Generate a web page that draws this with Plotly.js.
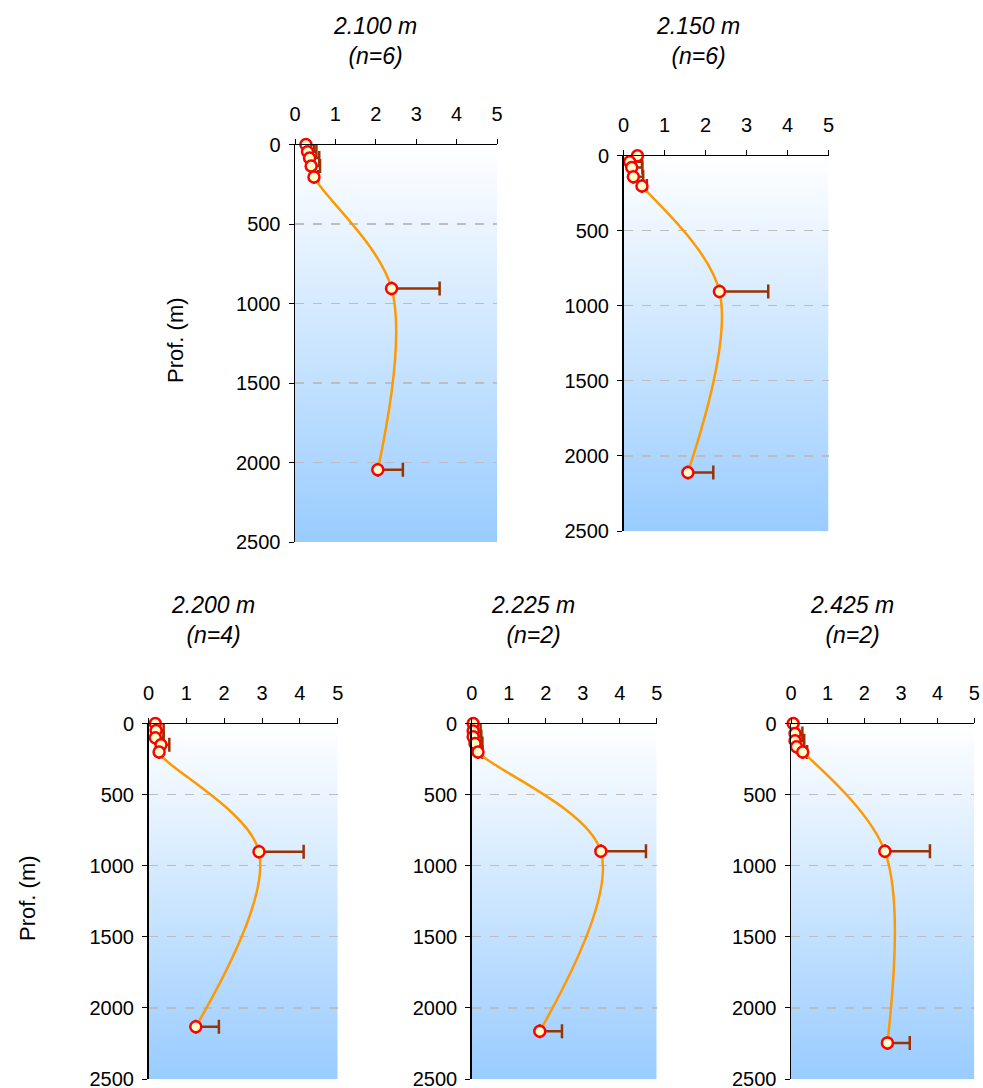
<!DOCTYPE html>
<html>
<head>
<meta charset="utf-8">
<script src="https://cdn.plot.ly/plotly-3.0.1.min.js"></script>
<style>html,body{margin:0;padding:0;background:#fff;}#chart{width:983px;height:1088px;}</style>
</head>
<body>
<div id="chart"></div>
<script>
// ---- data ----
const stationNames = ["2.100 m", "2.150 m", "2.200 m", "2.225 m", "2.425 m"];
const sampleCounts = ["(n=6)", "(n=6)", "(n=4)", "(n=2)", "(n=2)"];

const depth2100 = [0, 45, 85, 135, 205, 905, 2045];
const value2100 = [0.27, 0.31, 0.36, 0.40, 0.47, 2.39, 2.05];
const error2100 = [0.20, 0.22, 0.24, 0.22, 0.10, 1.19, 0.62];

const depth2150 = [0, 40, 78, 140, 202, 904, 2110];
const value2150 = [0.34, 0.15, 0.20, 0.24, 0.45, 2.34, 1.57];
const error2150 = [0.10, 0.30, 0.26, 0.24, 0.12, 1.19, 0.62];

const depth2200 = [0, 50, 100, 150, 200, 902, 2133];
const value2200 = [0.18, 0.20, 0.18, 0.33, 0.28, 2.92, 1.25];
const error2200 = [0.05, 0.20, 0.22, 0.22, 0.10, 1.18, 0.61];

const depth2225 = [0, 52, 94, 141, 200, 899, 2164];
const value2225 = [0.04, 0.04, 0.04, 0.09, 0.17, 3.49, 1.84];
const error2225 = [0.10, 0.20, 0.22, 0.20, 0.12, 1.22, 0.60];

const depth2425 = [0, 70, 122, 164, 200, 899, 2246];
const value2425 = [0.06, 0.11, 0.11, 0.15, 0.32, 2.56, 2.63];
const error2425 = [0.05, 0.20, 0.25, 0.20, 0.12, 1.23, 0.61];

const xTicks = [0, 1, 2, 3, 4, 5];
const yTicks = [0, 500, 1000, 1500, 2000, 2500];

const depths = [depth2100, depth2150, depth2200, depth2225, depth2425];
const values = [value2100, value2150, value2200, value2225, value2425];
const errors = [error2100, error2150, error2200, error2225, error2425];

// ---- layout geometry (paper fractions) ----
const W = 983, H = 1088;
const panels = [
  {x0: 295, x1: 497, y0: 144.5, y1: 542, title: [375, 41.5], ytitle: [175, 340]},
  {x0: 623.5, x1: 828.5, y0: 155.7, y1: 531, title: [698, 41.5], ytitle: null},
  {x0: 148.5, x1: 337.7, y0: 723.5, y1: 1079, title: [213, 619.5], ytitle: [27, 898]},
  {x0: 471.7, x1: 656.7, y0: 723.5, y1: 1079, title: [533, 619.5], ytitle: null},
  {x0: 791, x1: 974.3, y0: 723.5, y1: 1079, title: [852, 619.5], ytitle: null}
];

const FONT = "Liberation Sans, Arial, sans-serif";
const gradSvg = '<svg xmlns="http://www.w3.org/2000/svg" width="10" height="100" viewBox="0 0 10 100" preserveAspectRatio="none">' +
  '<defs><linearGradient id="g" x1="0" y1="0" x2="0" y2="1">' +
  '<stop offset="0" stop-color="#FFFFFF"/><stop offset="1" stop-color="#99CCFF"/>' +
  '</linearGradient></defs><rect x="0" y="0" width="10" height="100" fill="url(#g)"/></svg>';
const gradUri = 'data:image/svg+xml;charset=utf-8,' + encodeURIComponent(gradSvg);

const traces = [];
const layout = {
  width: W, height: H,
  margin: {l: 0, r: 0, t: 0, b: 0},
  paper_bgcolor: '#FFFFFF',
  plot_bgcolor: 'rgba(0,0,0,0)',
  showlegend: false,
  font: {family: FONT, size: 20, color: '#000'},
  annotations: [],
  images: []
};

panels.forEach((p, i) => {
  const n = i + 1;
  const xa = 'xaxis' + (n === 1 ? '' : n);
  const ya = 'yaxis' + (n === 1 ? '' : n);
  const xr = 'x' + (n === 1 ? '' : n);
  const yr = 'y' + (n === 1 ? '' : n);
  const dx = [p.x0 / W, p.x1 / W];
  const dy = [1 - p.y1 / H, 1 - p.y0 / H];

  layout[xa] = {
    domain: dx, anchor: yr, side: 'top', range: [0, 5],
    tickvals: xTicks, ticks: 'outside', ticklen: 5, tickcolor: '#000', tickwidth: 1,
    showline: true, linecolor: '#000', linewidth: 1,
    showgrid: false, zeroline: false,
    tickfont: {family: FONT, size: 20, color: '#000'},
    ticklabelstandoff: 10, ticklabeloverflow: 'allow', fixedrange: true
  };
  layout[ya] = {
    domain: dy, anchor: xr, range: [2500, 0],
    tickvals: yTicks, ticks: 'outside', ticklen: 5, tickcolor: '#000', tickwidth: 1,
    showline: true, linecolor: '#000', linewidth: 1.5,
    showgrid: true, gridcolor: '#BDBDBD', griddash: 'dash', gridwidth: 1.2,
    zeroline: false,
    tickfont: {family: FONT, size: 20, color: '#000'},
    ticklabelstandoff: 4, ticklabeloverflow: 'allow', fixedrange: true
  };

  layout.images.push({
    source: gradUri, xref: 'paper', yref: 'paper',
    x: dx[0], y: dy[1], sizex: dx[1] - dx[0], sizey: dy[1] - dy[0],
    xanchor: 'left', yanchor: 'top', sizing: 'stretch', layer: 'below'
  });

  layout.annotations.push({
    xref: 'paper', yref: 'paper', x: p.title[0] / W, y: 1 - p.title[1] / H,
    xanchor: 'center', yanchor: 'middle', showarrow: false,
    text: '<i>' + stationNames[i] + '</i><br><i>' + sampleCounts[i] + '</i>',
    font: {family: FONT, size: 23, color: '#000'}
  });
  if (p.ytitle) {
    layout.annotations.push({
      xref: 'paper', yref: 'paper', x: p.ytitle[0] / W, y: 1 - p.ytitle[1] / H,
      xanchor: 'center', yanchor: 'middle', showarrow: false, textangle: -90,
      text: 'Prof. (m)', font: {family: FONT, size: 22, color: '#000'}
    });
  }

  traces.push({
    type: 'scatter', mode: 'lines+markers', xaxis: xr, yaxis: yr,
    x: values[i], y: depths[i],
    line: {color: '#FF9900', width: 2.5, shape: 'spline', smoothing: 1},
    marker: {symbol: 'circle', size: 11, color: '#FFFFCC', line: {color: '#FF0000', width: 2.5}},
    error_x: {type: 'data', symmetric: false, array: errors[i], arrayminus: errors[i].map(() => 0),
              color: '#993300', thickness: 2.5, width: 7},
    cliponaxis: false, hoverinfo: 'skip'
  });
});

Plotly.newPlot('chart', traces, layout, {staticPlot: true, displayModeBar: false});
</script>
</body>
</html>
